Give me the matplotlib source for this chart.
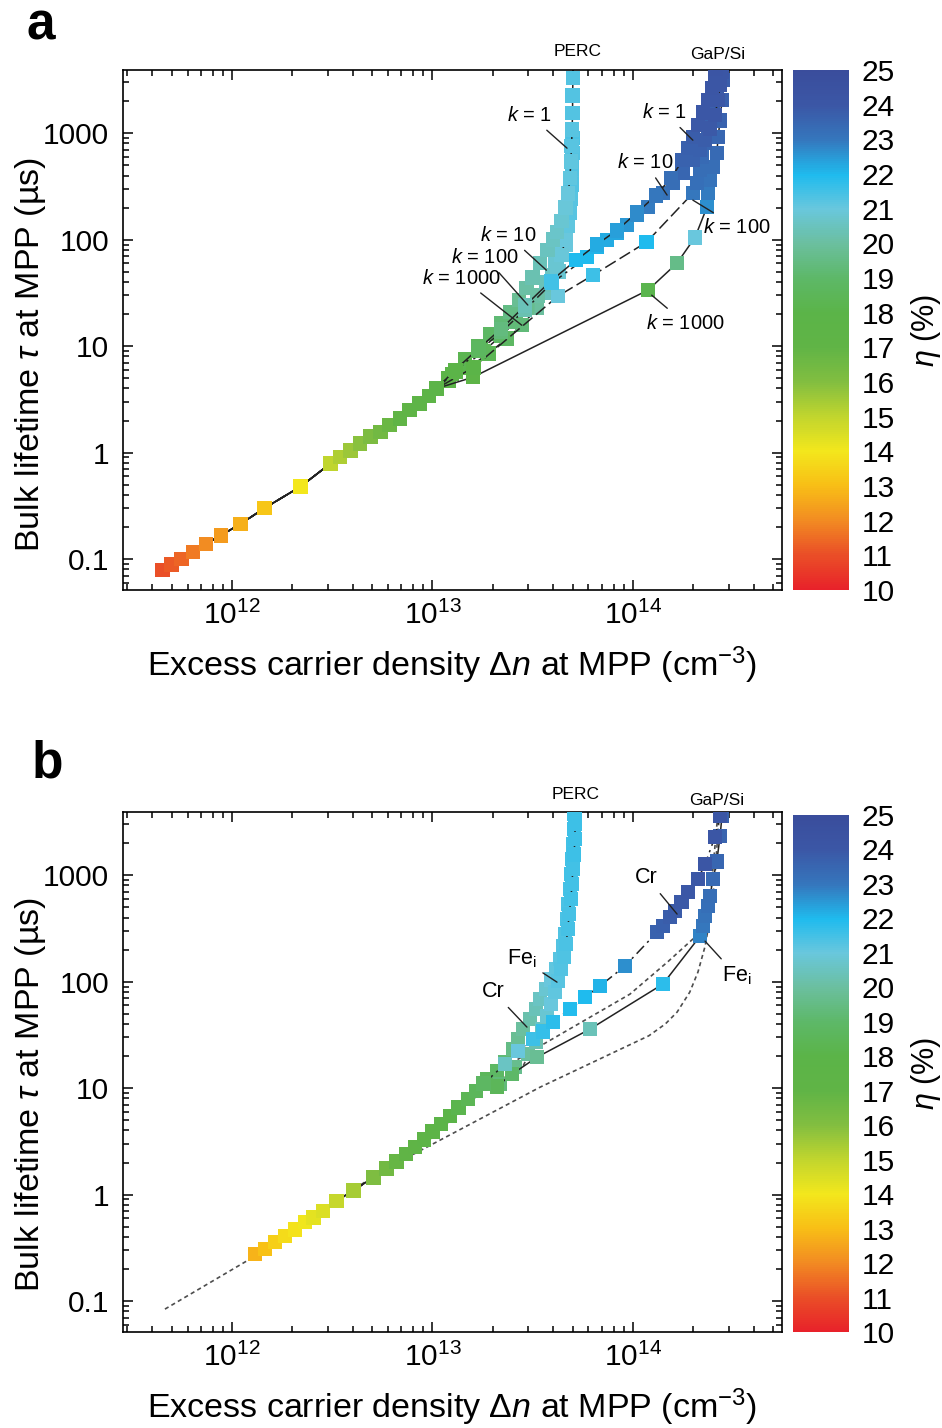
import matplotlib.pyplot as plt
import numpy as np
from matplotlib import ticker
from matplotlib.colors import LinearSegmentedColormap, Normalize
from matplotlib.cm import ScalarMappable

plt.rcParams['font.family'] = ['Liberation Sans', 'DejaVu Sans']
plt.rcParams['mathtext.fontset'] = 'custom'
plt.rcParams['mathtext.rm'] = 'Liberation Sans'
plt.rcParams['mathtext.it'] = 'Liberation Sans:italic'
plt.rcParams['mathtext.bf'] = 'Liberation Sans:bold'

# efficiency colour scale (eta in %)
eta_levels = list(range(10, 26))
eta_colors = ['#e8222a', '#ea4f27', '#f28c22', '#f8bf16', '#f3e71c', '#c0d52e',
              '#82be40', '#60b446', '#5bb448', '#5db868', '#6bbf9e', '#69c7dd',
              '#1fbbee', '#3577bd', '#3b57a6', '#3a4d9c']

# ---------------- panel a : k values ----------------
a_trunk_dn = [4.5e11, 5.0e11, 5.6e11, 6.4e11, 7.4e11, 8.8e11, 1.1e12, 1.45e12, 2.2e12, 3.1e12,
              3.45e12, 3.9e12, 4.35e12, 4.9e12, 5.5e12, 6.1e12, 6.9e12, 7.7e12, 8.6e12, 9.6e12, 1.05e13]
a_trunk_tau = [0.079, 0.089, 0.10, 0.117, 0.138, 0.167, 0.213, 0.30, 0.48, 0.79,
               0.91, 1.05, 1.22, 1.41, 1.57, 1.81, 2.09, 2.5, 2.9, 3.4, 4.0]
a_trunk_eta = [11.0, 11.2, 11.4, 11.7, 12.0, 12.3, 12.7, 13.2, 14.0, 15.0,
               15.3, 15.6, 15.9, 16.2, 16.5, 16.7, 17.0, 17.2, 17.4, 17.6, 17.8]

a_perc_k1_dn = [1.25e13, 1.45e13, 1.7e13, 1.95e13, 2.2e13, 2.45e13, 2.7e13, 2.95e13, 3.15e13, 3.44e13, 3.75e13, 4.0e13,
                4.18e13, 4.4e13, 4.6e13, 4.75e13, 4.85e13, 4.9e13, 4.94e13, 4.97e13, 5.0e13, 5.0e13, 5.02e13]
a_perc_k1_tau = [5.5, 7.5, 10, 13, 16.5, 21, 27, 35, 44, 60, 80, 100,
                 118, 150, 200, 270, 380, 540, 760, 1080, 1550, 2250, 3300]
a_perc_k1_eta = [18.0, 18.3, 18.6, 18.9, 19.2, 19.5, 19.8, 20.1, 20.3, 20.4, 20.5, 20.6,
                 20.7, 20.8, 20.9, 21.0, 21.1, 21.1, 21.2, 21.2, 21.3, 21.3, 21.3]

a_perc_k10_dn = [1.2e13, 1.45e13, 1.75e13, 2.1e13, 2.5e13, 2.95e13, 3.35e13, 3.7e13, 3.95e13, 4.18e13,
                 4.4e13, 4.6e13, 4.75e13, 4.85e13, 4.9e13, 4.95e13, 4.98e13, 5.0e13, 5.02e13]
a_perc_k10_tau = [5.0, 7.0, 9.5, 13, 17.5, 23, 30, 38, 46, 55, 72, 100, 135, 177, 240, 330, 460, 650, 900]
a_perc_k10_eta = [17.9, 18.2, 18.5, 18.9, 19.3, 19.7, 20.1, 20.4, 20.6, 20.8,
                  20.9, 21.0, 21.1, 21.2, 21.2, 21.3, 21.3, 21.3, 21.4]

a_perc_k100_dn = [1.2e13, 1.45e13, 1.8e13, 2.2e13, 2.6e13, 3.0e13, 3.32e13, 3.7e13, 4.1e13, 4.45e13,
                  4.7e13, 4.85e13, 4.95e13, 5.0e13]
a_perc_k100_tau = [4.8, 6.5, 9, 12.5, 17, 24, 30, 40, 60, 95, 160, 280, 500, 900]
a_perc_k100_eta = [17.8, 18.1, 18.5, 18.9, 19.3, 19.8, 20.2, 20.5, 20.8, 21.0, 21.1, 21.2, 21.3, 21.3]

a_perc_k1000_dn = [1.2e13, 1.5e13, 1.9e13, 2.35e13, 2.8e13, 3.32e13, 3.8e13, 4.25e13, 4.6e13, 4.85e13, 4.95e13, 5.0e13]
a_perc_k1000_tau = [4.7, 6.2, 8.5, 11.8, 15.7, 22.7, 32, 50, 90, 180, 400, 900]
a_perc_k1000_eta = [17.7, 18.0, 18.4, 18.8, 19.3, 20.0, 20.5, 20.8, 21.0, 21.1, 21.2, 21.3]

a_gap_k1_dn = [1.3e13, 1.7e13, 2.2e13, 2.9e13, 3.9e13, 5.2e13, 6.6e13, 8.3e13, 1.05e14, 1.3e14,
               1.55e14, 1.77e14, 1.88e14, 1.99e14, 2.11e14, 2.23e14, 2.37e14, 2.48e14, 2.56e14, 2.6e14]
a_gap_k1_tau = [6.0, 9.5, 14.5, 24, 41, 64, 90, 122, 180, 260,
                380, 558, 723, 917, 1190, 1570, 2040, 2650, 3430, 4000]
a_gap_k1_eta = [18.0, 18.7, 19.4, 20.4, 21.5, 22.0, 22.2, 22.4, 22.7, 23.0,
                23.3, 23.6, 23.7, 23.8, 23.9, 24.0, 24.0, 24.1, 24.1, 24.2]

a_gap_k10_dn = [1.3e13, 1.7e13, 2.2e13, 2.9e13, 3.94e13, 5.9e13, 6.61e13, 7.41e13, 8.32e13, 9.33e13, 1.05e14, 1.19e14,
                1.41e14, 1.58e14, 1.77e14, 1.99e14, 2.16e14, 2.29e14, 2.42e14, 2.56e14, 2.66e14, 2.72e14, 2.78e14]
a_gap_k10_tau = [5.8, 9.0, 13.5, 22, 39.1, 68.5, 85.1, 98.9, 115, 137, 170, 202,
                 273, 339, 421, 558, 692, 859, 1110, 1480, 2040, 2820, 3740]
a_gap_k10_eta = [17.9, 18.6, 19.3, 20.3, 21.5, 22.0, 22.1, 22.2, 22.3, 22.5, 22.7, 22.9,
                 23.1, 23.3, 23.5, 23.6, 23.7, 23.8, 23.9, 24.0, 24.0, 24.1, 24.1]

a_gap_k100_dn = [1.6e13, 4.23e13, 6.32e13, 1.17e14, 1.99e14, 2.09e14, 2.16e14, 2.21e14, 2.29e14, 2.37e14,
                 2.51e14, 2.62e14, 2.72e14]
a_gap_k100_tau = [6.3, 29.5, 46.4, 94.8, 273, 339, 450, 596, 806, 1140, 1640, 2380, 3350]
a_gap_k100_eta = [18.0, 21.0, 21.6, 22.0, 23.0, 23.2, 23.3, 23.4, 23.5, 23.6, 23.7, 23.8, 23.9]

a_gap_k1000_dn = [1.59e13, 1.19e14, 1.66e14, 2.04e14, 2.34e14, 2.37e14, 2.42e14, 2.51e14, 2.62e14, 2.66e14,
                  2.72e14, 2.78e14, 2.81e14]
a_gap_k1000_tau = [5.1, 33.6, 60.2, 105, 202, 273, 362, 480, 649, 917, 1320, 2040, 3150]
a_gap_k1000_eta = [17.6, 18.2, 19.6, 21.0, 22.6, 22.9, 23.1, 23.3, 23.4, 23.5, 23.6, 23.7, 23.8]

# ---------------- panel b : impurities ----------------
b_trunk_dn = [1.30e12, 1.46e12, 1.64e12, 1.84e12, 2.06e12, 2.31e12, 2.55e12, 2.85e12, 3.32e12, 4.03e12, 5.07e12, 5.9e12,
              6.6e12, 7.4e12, 8.2e12, 9.1e12, 1.0e13, 1.1e13, 1.22e13, 1.35e13, 1.5e13, 1.65e13, 1.8e13]
b_trunk_tau = [0.276, 0.31, 0.36, 0.41, 0.47, 0.55, 0.61, 0.70, 0.87, 1.09, 1.45, 1.75,
               2.05, 2.4, 2.8, 3.3, 3.9, 4.6, 5.5, 6.6, 7.9, 9.4, 11.0]
b_trunk_eta = [12.8, 13.1, 13.4, 13.7, 13.9, 14.1, 14.3, 14.5, 14.9, 15.4, 16.1, 16.5,
               16.8, 17.0, 17.2, 17.4, 17.6, 17.8, 18.0, 18.2, 18.4, 18.6, 18.8]

b_perc_cr_dn = [1.87e13, 2.10e13, 2.30e13, 2.52e13, 2.67e13, 2.83e13, 3.06e13, 3.28e13, 3.44e13, 3.68e13, 3.90e13, 4.13e13,
                4.33e13, 4.48e13, 4.58e13, 4.69e13, 4.74e13, 4.85e13, 4.91e13, 4.96e13, 5.02e13, 5.08e13, 5.08e13]
b_perc_cr_tau = [12.2, 14.4, 17.5, 23.2, 28.8, 35.8, 44.5, 55.2, 68.5, 85.1, 105, 131,
                 163, 215, 279, 386, 534, 739, 1020, 1410, 1950, 2700, 3740]
b_perc_cr_eta = [18.6, 18.9, 19.2, 19.5, 19.8, 20.0, 20.2, 20.4, 20.6, 20.8, 21.0, 21.1,
                 21.2, 21.3, 21.35, 21.4, 21.4, 21.45, 21.5, 21.5, 21.5, 21.55, 21.55]

b_perc_fe_dn = [2.17e13, 2.58e13, 2.99e13, 3.28e13, 3.52e13, 3.72e13, 3.90e13, 4.08e13, 4.23e13, 4.38e13, 4.53e13,
                4.63e13, 4.74e13, 4.80e13, 4.91e13, 4.96e13, 5.02e13, 5.08e13, 5.14e13, 5.14e13, 5.14e13]
b_perc_fe_tau = [10.9, 15.7, 20.8, 27.0, 35.8, 47.4, 61.5, 79.6, 101, 131, 173,
                 225, 311, 431, 596, 823, 1140, 1570, 2180, 3010, 3800]
b_perc_fe_eta = [19.3, 19.7, 20.0, 20.3, 20.6, 20.8, 21.0, 21.1, 21.2, 21.3, 21.35,
                 21.4, 21.45, 21.45, 21.5, 21.5, 21.5, 21.55, 21.55, 21.55, 21.6]

b_gap_cr_dn = [2.3e13, 2.67e13, 3.17e13, 3.56e13, 3.99e13, 4.85e13, 5.76e13, 6.84e13, 9.12e13, 1.32e14,
               1.41e14, 1.53e14, 1.62e14, 1.75e14, 1.88e14, 2.11e14, 2.29e14, 2.56e14, 2.72e14]
b_gap_cr_tau = [16.8, 22.2, 28.8, 34, 41.7, 55.2, 71.5, 90.8, 140, 292,
                332, 404, 459, 558, 692, 917, 1270, 2270, 3580]
b_gap_cr_eta = [20.6, 21.0, 21.6, 21.7, 21.8, 21.9, 22.0, 22.1, 22.6, 23.6,
                23.7, 23.8, 23.85, 23.9, 23.95, 24.0, 24.05, 24.1, 24.1]

b_gap_fe_dn = [2.1e13, 2.49e13, 3.32e13, 6.1e13, 1.41e14, 2.16e14, 2.23e14, 2.29e14, 2.37e14, 2.42e14,
               2.51e14, 2.62e14, 2.72e14, 2.78e14]
b_gap_fe_tau = [10.4, 13.5, 19.5, 35.8, 94.8, 267, 332, 412, 512, 635, 917, 1350, 2320, 3580]
b_gap_fe_eta = [18.5, 19.0, 19.8, 20.4, 21.8, 22.8, 23.0, 23.1, 23.2, 23.3, 23.4, 23.5, 23.55, 23.6]

# curves drawn without markers (dotted)
b_low_dn = [4.63e11, 1.23e12, 5.47e12, 3.44e13, 9.0e13, 1.2e14, 1.45e14, 1.66e14, 1.92e14, 2.11e14,
            2.29e14, 2.42e14, 2.56e14, 2.66e14, 2.72e14]
b_low_tau = [0.084, 0.248, 1.63, 10.2, 24, 31, 40, 51.7, 79.6, 123, 215, 386, 917, 2700, 4000]
b_mid_dn = [7.15e12, 9.7e12, 2.52e13, 3.44e13, 9.66e13, 1.5e14, 2.04e14, 2.29e14, 2.48e14, 2.66e14]
b_mid_tau = [2.31, 3.3, 17.5, 24.8, 76.3, 155, 262, 431, 917, 4000]
b_perc_dot_dn = [1.0e13, 1.8e13, 2.83e13, 3.56e13, 4.33e13, 4.69e13, 4.85e13, 5.02e13, 5.14e13, 5.14e13]
b_perc_dot_tau = [3.9, 9.5, 16.1, 38.2, 79.6, 152, 292, 635, 1750, 4000]

cmap = LinearSegmentedColormap.from_list(
    'eta', [((v - 10) / 15, c) for v, c in zip(eta_levels, eta_colors)])
norm = Normalize(10, 25)

W, H = 942, 1428
fig = plt.figure(figsize=(W / 100, H / 100), dpi=100)


def box(x0, y0, x1, y1):
    return [x0 / W, 1 - y1 / H, (x1 - x0) / W, (y1 - y0) / H]


line_col = '#222222'
msize = 108


def draw(ax, trunk, curves, dotted):
    for dn, tau in dotted:
        ax.plot(dn, tau, ls=(0, (2.5, 2)), color='#4d4d4d', lw=1.2, zorder=2)
    zo = 3
    for dn, tau, eta, ls in curves:
        ax.plot(trunk[0] + dn, trunk[1] + tau, ls=ls, color=line_col, lw=1.1, zorder=zo)
        ax.scatter(dn, tau, c=eta, cmap=cmap, norm=norm, marker='s', s=msize,
                   linewidths=0, zorder=zo + 0.5)
        zo += 1
    ax.scatter(trunk[0], trunk[1], c=trunk[2], cmap=cmap, norm=norm, marker='s', s=msize,
               linewidths=0, zorder=zo)


def style(ax, ylab_y):
    ax.set_xscale('log')
    ax.set_yscale('log')
    ax.set_xlim(2.86e11, 5.54e14)
    ax.set_ylim(0.0512, 3920)
    ax.xaxis.set_major_locator(ticker.LogLocator(base=10, numticks=10))
    ax.xaxis.set_minor_locator(ticker.LogLocator(base=10, subs=np.arange(2, 10), numticks=20))
    ax.yaxis.set_minor_locator(ticker.LogLocator(base=10, subs=np.arange(2, 10), numticks=20))
    ax.xaxis.set_minor_formatter(ticker.NullFormatter())
    ax.yaxis.set_minor_formatter(ticker.NullFormatter())
    ax.yaxis.set_major_formatter(ticker.FuncFormatter(lambda v, p: '%g' % v))
    ax.tick_params(which='both', direction='in', top=True, right=True, width=1.1)
    ax.tick_params(which='major', length=7, labelsize=21.5)
    ax.tick_params(axis='y', which='major', pad=10)
    ax.tick_params(axis='x', which='major', pad=8)
    ax.tick_params(which='minor', length=4)
    for s in ax.spines.values():
        s.set_linewidth(1.2)
    ax.set_xlabel(r'Excess carrier density $\Delta n$ at MPP (cm$^{-3}$)', fontsize=24.5)
    ax.set_ylabel(r'Bulk lifetime $\tau$ at MPP (µs)', fontsize=24.5)
    ax.xaxis.set_label_coords(0.5, -0.144)
    ax.xaxis.label.set_va('center')
    ax.yaxis.set_label_coords(-0.14, ylab_y)
    ax.yaxis.label.set_va('center')


def cbar(bx):
    cax = fig.add_axes(bx)
    cb = fig.colorbar(ScalarMappable(norm=norm, cmap=cmap), cax=cax, ticks=eta_levels)
    cb.outline.set_visible(False)
    cax.tick_params(length=0, labelsize=21.5, pad=9)
    cb.set_label(r'$\eta$ (%)', fontsize=22, labelpad=10)


def label(ax, txt, xy, xytext, size=14.5):
    ax.annotate(txt, xy=xy, xytext=xytext, fontsize=size, ha='center', va='center', zorder=20,
                arrowprops=dict(arrowstyle='-', color='#222222', lw=1.0, shrinkA=3, shrinkB=0))


# ----- panel a -----
ax1 = fig.add_axes(box(123, 70, 782, 590))
draw(ax1, (a_trunk_dn, a_trunk_tau, a_trunk_eta), [
    (a_perc_k1000_dn, a_perc_k1000_tau, a_perc_k1000_eta, '-'),
    (a_perc_k100_dn, a_perc_k100_tau, a_perc_k100_eta, (0, (7, 3, 1.5, 3))),
    (a_perc_k10_dn, a_perc_k10_tau, a_perc_k10_eta, (0, (8, 3))),
    (a_perc_k1_dn, a_perc_k1_tau, a_perc_k1_eta, '-'),
    (a_gap_k1000_dn, a_gap_k1000_tau, a_gap_k1000_eta, '-'),
    (a_gap_k100_dn, a_gap_k100_tau, a_gap_k100_eta, (0, (8, 3))),
    (a_gap_k10_dn, a_gap_k10_tau, a_gap_k10_eta, (0, (7, 3, 1.5, 3))),
    (a_gap_k1_dn, a_gap_k1_tau, a_gap_k1_eta, '-'),
], [])
style(ax1, 0.452)
label(ax1, r'$k$ = 1', (4.69e13, 723), (3.06e13, 1476))
label(ax1, r'$k$ = 10', (3.7e13, 51.7), (2.38e13, 110))
label(ax1, r'$k$ = 100', (2.99e13, 24.3), (1.83e13, 68.5))
label(ax1, r'$k$ = 1000', (2.79e13, 15.7), (1.40e13, 43.5))
label(ax1, r'$k$ = 1', (1.99e14, 859), (1.44e14, 1570))
label(ax1, r'$k$ = 10', (1.48e14, 262), (1.15e14, 534))
label(ax1, r'$k$ = 100', (1.99e14, 235), (3.30e14, 131))
label(ax1, r'$k$ = 1000', (1.24e14, 30.1), (1.82e14, 16.4))
tr1 = ax1.get_xaxis_transform()
ax1.text(5.32e13, 1.035, 'PERC', transform=tr1, ha='center', va='center', fontsize=12.5)
ax1.text(2.66e14, 1.03, 'GaP/Si', transform=tr1, ha='center', va='center', fontsize=12.5)
cbar(box(793, 70, 849, 590))
fig.text(41 / W, 1 - 39 / H, 'a', fontsize=37, fontweight='bold', ha='center', va='baseline')

# ----- panel b -----
ax2 = fig.add_axes(box(123, 812, 782, 1332))
draw(ax2, (b_trunk_dn, b_trunk_tau, b_trunk_eta), [
    (b_perc_cr_dn, b_perc_cr_tau, b_perc_cr_eta, (0, (7, 3, 1.5, 3))),
    (b_perc_fe_dn, b_perc_fe_tau, b_perc_fe_eta, '-'),
    (b_gap_fe_dn, b_gap_fe_tau, b_gap_fe_eta, '-'),
    (b_gap_cr_dn, b_gap_cr_tau, b_gap_cr_eta, (0, (7, 3, 1.5, 3))),
], [(b_low_dn, b_low_tau), (b_mid_dn, b_mid_tau), (b_perc_dot_dn, b_perc_dot_tau)])
style(ax2, 0.456)
label(ax2, 'Cr', (2.96e13, 37.4), (2.0e13, 81.4), 15.5)
label(ax2, r'Fe$_\mathrm{i}$', (4.18e13, 98.9), (2.79e13, 163), 15.5)
label(ax2, 'Cr', (1.66e14, 431), (1.17e14, 957), 15.5)
label(ax2, r'Fe$_\mathrm{i}$', (2.29e14, 240), (3.30e14, 113), 15.5)
tr2 = ax2.get_xaxis_transform()
ax2.text(5.2e13, 1.033, 'PERC', transform=tr2, ha='center', va='center', fontsize=12.5)
ax2.text(2.62e14, 1.023, 'GaP/Si', transform=tr2, ha='center', va='center', fontsize=12.5)
cbar(box(793, 815, 849, 1332))
fig.text(47 / W, 1 - 778 / H, 'b', fontsize=37, fontweight='bold', ha='center', va='baseline')

fig.savefig('out.png', dpi=100)
